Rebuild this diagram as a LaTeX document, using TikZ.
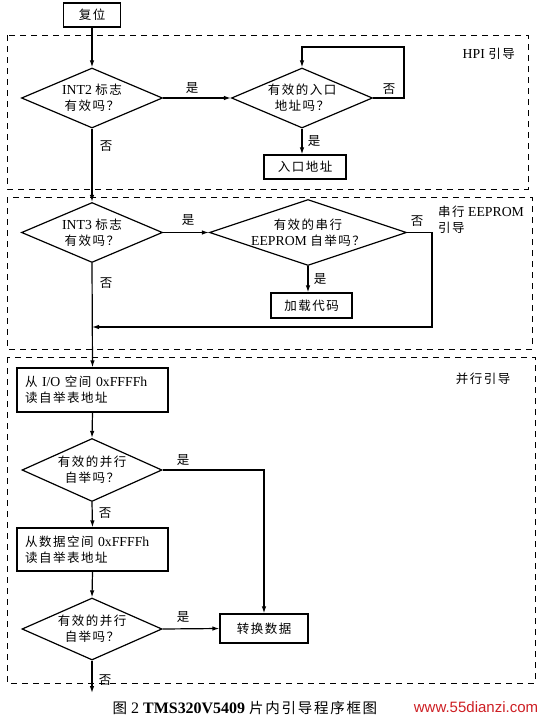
\documentclass[tikz,border=0pt]{standalone}
\usepackage{fontspec}
\setmainfont{Liberation Serif}[Scale=1.1]
\newfontfamily\cjk[LetterSpace=12]{Noto Sans CJK SC}
\newfontfamily\wmfont{Liberation Sans}
\newcommand{\zh}[1]{{\cjk #1}}
\usetikzlibrary{shapes.geometric,arrows.meta}
\definecolor{wmred}{RGB}{205,30,35}
\tikzset{
  ln/.style={line width=1.2pt},
  arr/.style={ln,-{Latex[length=7pt,width=4.5pt]}},
  pbox/.style={draw,line width=1.2pt,inner sep=0pt,align=center},
  dia/.style={draw,diamond,line width=1.2pt,inner sep=0pt},
  dtext/.style={inner sep=0pt,align=center},
  grp/.style={draw,line width=0.9pt,dash pattern=on 6pt off 5pt},
  lbl/.style={inner sep=1pt},
}
\begin{document}
\begin{tikzpicture}[x=1pt,y=-1pt,font=\fontsize{12.5}{16}\selectfont]
\useasboundingbox (0,0) rectangle (545,720);
% group frames
\draw[grp] (7,35) rectangle (528,189);
\draw[grp] (7,197) rectangle (532,349);
\draw[grp] (7,357) rectangle (535,683);
\node[lbl,anchor=east] (hpilbl) at (516,54) {HPI \zh{引导}};
\node[lbl,anchor=west,align=left] (serlbl) at (437,219.5) {\zh{串行} EEPROM\\\zh{引导}};
\node[lbl] (parlbl) at (483,379) {\zh{并行引导}};

% nodes
\node[pbox,minimum width=57pt,minimum height=24pt] (reset) at (92,15) {\zh{复位}};
\node[dia,minimum width=141pt,minimum height=60pt] (d1) at (92,98) {};
\node[dtext] (t1) at (d1) {INT2 \zh{标志}\\\zh{有效吗？}};
\node[dia,minimum width=141pt,minimum height=60pt] (d2) at (302,98) {};
\node[dtext] (t2) at (d2) {\zh{有效的入口}\\\zh{地址吗？}};
\node[pbox,minimum width=82pt,minimum height=24pt] (entry) at (305,167) {\zh{入口地址}};
\coordinate (loop) at (404,47);

\node[dia,minimum width=141pt,minimum height=60pt] (d3) at (92,232.5) {};
\node[dtext] (t3) at (d3) {INT3 \zh{标志}\\\zh{有效吗？}};
\node[dia,minimum width=197pt,minimum height=66pt] (d4) at (308,232.5) {};
\node[dtext] (t4) at (d4) {\zh{有效的串行}\\EEPROM \zh{自举吗？}};
\node[pbox,minimum width=81pt,minimum height=25pt] (load) at (311.5,305.5) {\zh{加载代码}};
\coordinate (ret) at (432,327);

\node[pbox,text width=135pt,align=left,inner xsep=8pt,minimum height=44pt] (io) at (92.5,390) {\zh{从} I/O \zh{空间} 0xFFFFh\\\zh{读自举表地址}};
\node[dia,minimum width=140pt,minimum height=63pt] (d5) at (92,470) {};
\node[dtext] (t5) at (d5) {\zh{有效的并行}\\\zh{自举吗？}};
\node[pbox,text width=135pt,align=left,inner xsep=8pt,minimum height=43pt] (data) at (92.5,549.5) {\zh{从数据空间} 0xFFFFh\\\zh{读自举表地址}};
\node[dia,minimum width=140pt,minimum height=62pt] (d6) at (92,629) {};
\node[dtext] (t6) at (d6) {\zh{有效的并行}\\\zh{自举吗？}};
\node[pbox,minimum width=88pt,minimum height=29pt] (xfer) at (264,628.5) {\zh{转换数据}};
\coordinate (out) at (92,693);

% connectors
\draw[arr] (reset) -- (d1.north);
\draw[arr] (d1.east) -- (d2.west);
\draw[arr] (d2.east) -| (loop) -| (d2.north);
\draw[arr] (d2.south) -- (d2.south |- entry.north);
\draw[arr] (d1.south) -- (d3.north);
\draw[arr] (d3.east) -- (d4.west);
\draw[arr] (d4.south) -- (d4.south |- load.north);
\draw[arr] (d4.east) -| (ret) -- (ret -| d3.south);
\draw[arr] (d3.south) -- (io.north);
\draw[arr] (io.south) -- (d5.north);
\draw[arr] (d5.east) -| (xfer.north);
\draw[arr] (d5.south) -- (data.north);
\draw[arr] (data.south) -- (d6.north);
\draw[arr] (d6.east) -- (xfer.west);
\draw[arr] (d6.south) -- (out);

% edge labels
\node[lbl] (y1) at (192,88) {\zh{是}};
\node[lbl] (n1) at (389,89) {\zh{否}};
\node[lbl] (y2) at (314,141) {\zh{是}};
\node[lbl] (n2) at (106,146) {\zh{否}};
\node[lbl] (y3) at (188,220) {\zh{是}};
\node[lbl] (n3) at (417,221) {\zh{否}};
\node[lbl] (y4) at (320,279) {\zh{是}};
\node[lbl] (n4) at (106,283) {\zh{否}};
\node[lbl] (y5) at (183,460) {\zh{是}};
\node[lbl] (n5) at (105,513) {\zh{否}};
\node[lbl] (y6) at (183,617) {\zh{是}};
\node[lbl] (n6) at (105,680) {\zh{否}};

% caption
\node[lbl,font=\fontsize{14.5}{16}\selectfont] (cap) at (245,708) {\zh{图} 2 \textbf{TMS320V5409} \zh{片内引导程序框图}};
\node[lbl,text=wmred,font=\wmfont\fontsize{15}{16}\selectfont] (wm) at (476,707) {www.55dianzi.com};
\end{tikzpicture}
\end{document}
